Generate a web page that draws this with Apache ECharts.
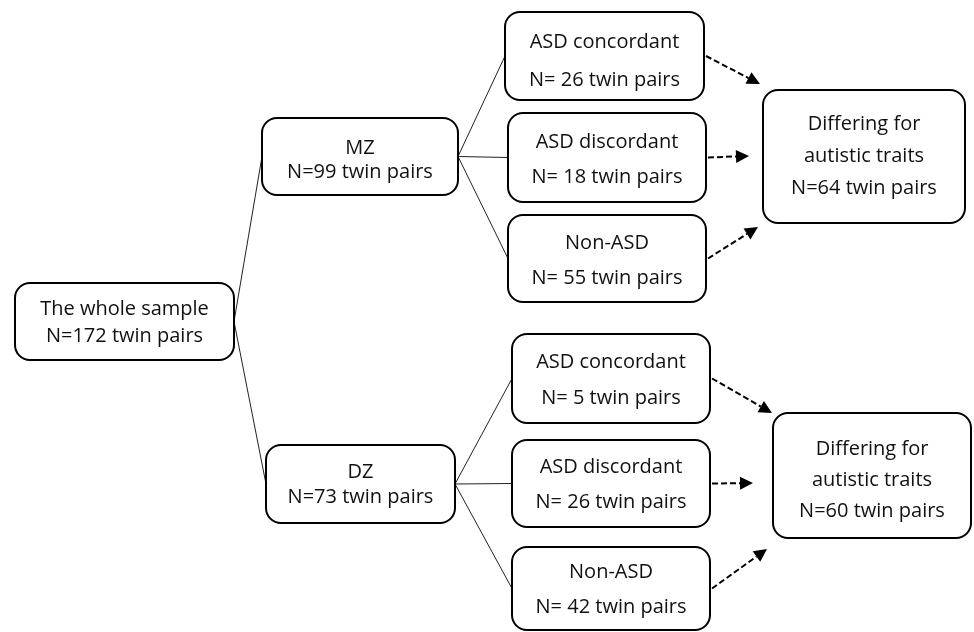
<!DOCTYPE html>
<html>
<head>
<meta charset="utf-8">
<script src="https://cdn.jsdelivr.net/npm/echarts@6/dist/echarts.min.js"></script>
<style>
html,body{margin:0;padding:0;background:#fff;}
#chart{width:974px;height:632px;}
</style>
</head>
<body>
<div id="chart"></div>
<script>
// ---- data ----
var nodeTitles = ['The whole sample', 'MZ', 'DZ',
  'ASD concordant', 'ASD discordant', 'Non-ASD',
  'ASD concordant', 'ASD discordant', 'Non-ASD',
  'Differing for\nautistic traits', 'Differing for\nautistic traits'];
var nodeCounts = [172, 99, 73, 26, 18, 55, 5, 26, 42, 64, 60];
var countPrefix = ['N=', 'N=', 'N=', 'N= ', 'N= ', 'N= ', 'N= ', 'N= ', 'N= ', 'N=', 'N='];
var treeEdges = [[0, 1], [0, 2], [1, 3], [1, 4], [1, 5], [2, 6], [2, 7], [2, 8]];
var traitEdges = [[3, 9], [4, 9], [5, 9], [6, 10], [7, 10], [8, 10]];

// ---- layout (diagram coordinates): x1, y1, x2, y2, lineHeight, textOffsetY ----
var boxLayout = [
  [15, 283, 234, 360, 27, 1],
  [262, 118, 458, 195, 24, 4],
  [266, 445, 455, 523, 25, 1],
  [505, 12, 704, 100, 38, 5],
  [508, 113, 706, 202, 35, 2],
  [508, 215, 706, 302, 35, 2],
  [512, 334, 710, 423, 36, 2],
  [512, 440, 710, 527, 35, 1],
  [512, 547, 710, 630, 35, 1],
  [763, 90, 965, 223, 32, 0],
  [773, 413, 971, 538, 31, 5]
];
var arrowTips = [[760, 84], [749, 156], [758, 227], [772, 413], [753, 483], [767, 549]];

var FONT = '"Open Sans", sans-serif';
var FS = 20;

var boxData = nodeTitles.map(function (t, i) { return [i]; });
var treeData = treeEdges.map(function (e) {
  var s = boxLayout[e[0]], t = boxLayout[e[1]];
  return [s[2], (s[1] + s[3]) / 2, t[0], (t[1] + t[3]) / 2];
});
var arrowData = traitEdges.map(function (e, i) {
  var s = boxLayout[e[0]];
  return [s[2] + 2, (s[1] + s[3]) / 2, arrowTips[i][0], arrowTips[i][1]];
});

var chart = echarts.init(document.getElementById('chart'), null, {renderer: 'canvas'});
chart.setOption({
  backgroundColor: '#fff',
  animation: false,
  grid: {left: 0, right: 0, top: 0, bottom: 0},
  xAxis: {type: 'value', min: 0, max: 974, show: false},
  yAxis: {type: 'value', min: 0, max: 632, inverse: true, show: false},
  series: [
    {
      type: 'custom',
      data: treeData,
      renderItem: function (params, api) {
        var a = api.coord([api.value(0), api.value(1)]);
        var b = api.coord([api.value(2), api.value(3)]);
        return {type: 'line', shape: {x1: a[0], y1: a[1], x2: b[0], y2: b[1]},
          style: {stroke: '#222', lineWidth: 1}};
      },
      z: 1
    },
    {
      type: 'custom',
      data: arrowData,
      renderItem: function (params, api) {
        var a = api.coord([api.value(0), api.value(1)]);
        var b = api.coord([api.value(2), api.value(3)]);
        var dx = b[0] - a[0], dy = b[1] - a[1];
        var len = Math.sqrt(dx * dx + dy * dy);
        var ux = dx / len, uy = dy / len;
        var hl = 13, hw = 6.5;
        var bx = b[0] - ux * hl, by = b[1] - uy * hl;
        return {type: 'group', children: [
          {type: 'line', shape: {x1: a[0], y1: a[1], x2: bx, y2: by},
            style: {stroke: '#000', lineWidth: 2, lineDash: [6, 3]}},
          {type: 'polygon', shape: {points: [[b[0], b[1]],
            [bx - uy * hw, by + ux * hw], [bx + uy * hw, by - ux * hw]]},
            style: {fill: '#000'}}
        ]};
      },
      z: 2
    },
    {
      type: 'custom',
      data: boxData,
      renderItem: function (params, api) {
        var i = api.value(0);
        var L = boxLayout[i];
        var p1 = api.coord([L[0], L[1]]);
        var p2 = api.coord([L[2], L[3]]);
        var text = nodeTitles[i] + '\n' + countPrefix[i] + nodeCounts[i] + ' twin pairs';
        return {type: 'group', children: [
          {type: 'rect', shape: {x: p1[0], y: p1[1], width: p2[0] - p1[0], height: p2[1] - p1[1], r: 15},
            style: {fill: '#fff', stroke: '#000', lineWidth: 2}},
          {type: 'text', style: {text: text, x: (p1[0] + p2[0]) / 2, y: (p1[1] + p2[1]) / 2 + L[5],
            align: 'center', verticalAlign: 'middle', fontFamily: FONT, fontSize: FS,
            lineHeight: L[4], fill: '#111'}}
        ]};
      },
      z: 3
    }
  ]
});
</script>
</body>
</html>
